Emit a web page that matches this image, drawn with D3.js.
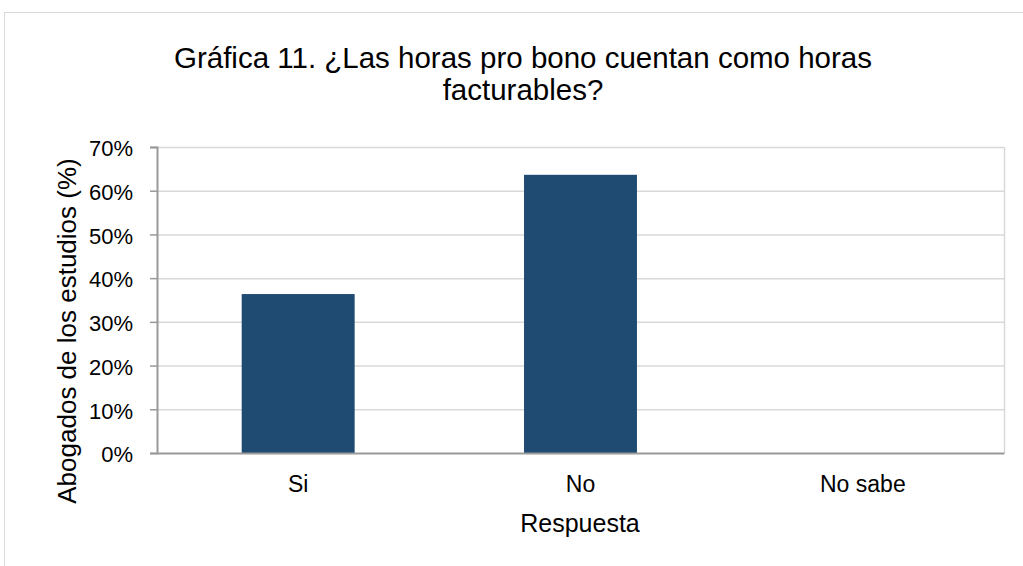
<!DOCTYPE html>
<html>
<head>
<meta charset="utf-8">
<script src="https://d3js.org/d3.v7.min.js"></script>
<style>
body { margin: 0; background: #fff; }
text { font-family: "Liberation Sans", Arial, sans-serif; fill: #000; }
</style>
</head>
<body>
<script>
const categories = ["Si", "No", "No sabe"];
const values = [36.36, 63.64, 0];
const yTicks = [0, 10, 20, 30, 40, 50, 60, 70];

const w = 1023, h = 566;
const svg = d3.select("body").append("svg")
  .attr("width", w).attr("height", h);

// outer chart frame
svg.append("rect")
  .attr("x", 4.5).attr("y", 12.5)
  .attr("width", w).attr("height", h)
  .attr("fill", "none").attr("stroke", "#d9d9d9");

const plotL = 157, plotR = 1004, plotT = 147, plotB = 453;

const x = d3.scaleBand().domain(categories).range([plotL, plotR]);
const y = d3.scaleLinear().domain([0, 70]).range([plotB, plotT]);

// gridlines
svg.selectAll("line.grid")
  .data(yTicks.slice(1))
  .enter().append("line")
  .attr("class", "grid")
  .attr("x1", plotL).attr("x2", plotR)
  .attr("y1", d => y(d) + 0.5).attr("y2", d => y(d) + 0.5)
  .attr("stroke", "#d9d9d9").attr("stroke-width", 1.5);

// right frame
svg.append("line")
  .attr("x1", plotR + 0.5).attr("x2", plotR + 0.5)
  .attr("y1", plotT).attr("y2", plotB)
  .attr("stroke", "#d9d9d9").attr("stroke-width", 1.5);

// bars
const barW = x.bandwidth() * 0.4;
svg.selectAll("rect.bar")
  .data(values)
  .enter().append("rect")
  .attr("class", "bar")
  .attr("x", (d, i) => x(categories[i]) + (x.bandwidth() - barW) / 2)
  .attr("y", d => y(d))
  .attr("width", barW)
  .attr("height", d => plotB - y(d))
  .attr("fill", "#1f4a72");

// y axis
const yAxis = svg.append("g")
  .attr("transform", `translate(${plotL},0)`)
  .call(d3.axisLeft(y).tickValues(yTicks).tickFormat(d => d + "%").tickSizeOuter(0).tickSize(7).tickPadding(17));
yAxis.select(".domain").attr("stroke", "#999").attr("stroke-width", 2);
yAxis.selectAll(".tick line").attr("stroke", "#999").attr("stroke-width", 1.5);
yAxis.selectAll(".tick text").attr("font-size", "22px").attr("dy", "0.4em").attr("fill", "#000");

// x axis
const xAxis = svg.append("g")
  .attr("transform", `translate(0,${plotB})`)
  .call(d3.axisBottom(x).tickSize(0).tickPadding(23));
xAxis.select(".domain").attr("stroke", "#999").attr("stroke-width", 2);
xAxis.selectAll(".tick text").attr("font-size", "23px").attr("fill", "#000");

// title
svg.append("text")
  .attr("x", 523).attr("y", 68)
  .attr("text-anchor", "middle").attr("font-size", "29.5px")
  .text("Gráfica 11. ¿Las horas pro bono cuentan como horas");
svg.append("text")
  .attr("x", 523).attr("y", 100)
  .attr("text-anchor", "middle").attr("font-size", "29.5px")
  .text("facturables?");

// axis titles
svg.append("text")
  .attr("x", 580).attr("y", 532)
  .attr("text-anchor", "middle").attr("font-size", "25px")
  .text("Respuesta");
svg.append("text")
  .attr("transform", "translate(76,331) rotate(-90)")
  .attr("text-anchor", "middle").attr("font-size", "26px")
  .text("Abogados de los estudios (%)");
</script>
</body>
</html>
